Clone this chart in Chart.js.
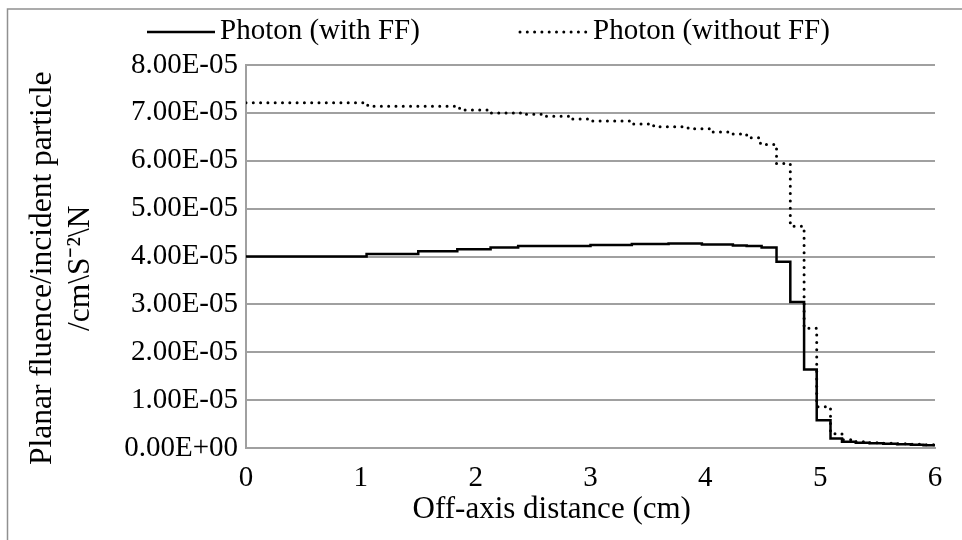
<!DOCTYPE html>
<html>
<head>
<meta charset="utf-8">
<script src="https://cdn.jsdelivr.net/npm/chart.js@4/dist/chart.umd.min.js"></script>
<style>
  html, body { margin: 0; padding: 0; background: #fff; }
</style>
</head>
<body>
<canvas id="myChart" width="962" height="540"></canvas>
<script>
// step edges (cm) and the value of the bin that starts there
const withFFX = [0, 1.05, 1.50, 1.84, 2.13, 2.37, 3.00, 3.36, 3.68, 3.97, 4.24, 4.36, 4.49, 4.62, 4.74, 4.86, 4.97, 5.09, 5.19, 5.31, 5.43, 5.55, 5.67, 5.79, 5.90, 6.00];
const withFFY = [4.00e-5, 4.05e-5, 4.11e-5, 4.15e-5, 4.19e-5, 4.22e-5, 4.24e-5, 4.26e-5, 4.27e-5, 4.25e-5, 4.23e-5, 4.22e-5, 4.19e-5, 3.89e-5, 3.05e-5, 1.64e-5, 0.58e-5, 0.20e-5, 0.13e-5, 0.11e-5, 0.10e-5, 0.09e-5, 0.08e-5, 0.07e-5, 0.06e-5, 0.06e-5];

const withoutFFX = [0, 1.06, 1.86, 2.11, 2.39, 2.59, 2.84, 3.02, 3.35, 3.55, 3.85, 4.05, 4.20, 4.36, 4.48, 4.62, 4.74, 4.86, 4.97, 5.09, 5.19, 5.31, 5.43, 5.55, 5.67, 5.79, 5.90, 6.00];
const withoutFFY = [7.21e-5, 7.14e-5, 7.06e-5, 7.00e-5, 6.97e-5, 6.93e-5, 6.87e-5, 6.83e-5, 6.77e-5, 6.71e-5, 6.67e-5, 6.60e-5, 6.56e-5, 6.48e-5, 6.34e-5, 5.94e-5, 4.63e-5, 2.50e-5, 0.86e-5, 0.30e-5, 0.17e-5, 0.13e-5, 0.11e-5, 0.10e-5, 0.09e-5, 0.08e-5, 0.07e-5, 0.07e-5];

const xTicks = [0, 1, 2, 3, 4, 5, 6];
const yTicks = [0, 1e-5, 2e-5, 3e-5, 4e-5, 5e-5, 6e-5, 7e-5, 8e-5];

const seriesNames = ['Photon (with FF)', 'Photon (without FF)'];

const serif = "'Liberation Serif', 'Times New Roman', serif";
const gridGray = '#a0a0a0';

function toPoints(xs, ys) {
	return xs.map((x, i) => ({ x: x, y: ys[i] }));
}

function sciLabel(v) {
	const parts = Number(v).toExponential(2).split('e');
	const sign = parts[1][0] === '-' ? '-' : '+';
	return parts[0] + 'E' + sign + parts[1].replace(/^[+-]/, '').padStart(2, '0');
}

// white page, the frame edge and the legend row along the top
const framePlugin = {
	id: 'frame',
	beforeDraw(chart) {
		const ctx = chart.ctx;
		ctx.save();
		ctx.fillStyle = '#fff';
		ctx.fillRect(0, 0, chart.width, chart.height);
		ctx.restore();
	},
	afterDraw(chart) {
		const ctx = chart.ctx;
		ctx.save();
		ctx.strokeStyle = '#909090';
		ctx.lineWidth = 1.5;
		ctx.strokeRect(7.5, 9, 1200, 1200);

		// legend: sample line then its label
		const slots = [{ x: 147, text: 220 }, { x: 520, text: 593 }];
		ctx.font = '29px ' + serif;
		ctx.textBaseline = 'middle';
		ctx.fillStyle = '#000';
		chart.data.datasets.forEach((ds, i) => {
			const s = slots[i];
			ctx.beginPath();
			ctx.lineWidth = ds.borderWidth;
			ctx.strokeStyle = ds.borderColor;
			ctx.lineCap = ds.borderCapStyle || 'butt';
			ctx.setLineDash(ds.borderDash || []);
			ctx.moveTo(s.x, 32);
			ctx.lineTo(s.x + 68, 32);
			ctx.stroke();
			ctx.fillText(ds.label, s.text, 31);
		});
		ctx.restore();
	}
};

Chart.defaults.font.family = serif;
Chart.defaults.color = '#000';

const ctx = document.getElementById('myChart').getContext('2d');
const myChart = new Chart(ctx, {
	type: 'line',
	data: {
		datasets: [{
			label: seriesNames[0],
			data: toPoints(withFFX, withFFY),
			borderColor: '#000',
			backgroundColor: '#000',
			borderWidth: 2.5,
			stepped: 'before',
			pointRadius: 0
		}, {
			label: seriesNames[1],
			data: toPoints(withoutFFX, withoutFFY),
			borderColor: '#000',
			backgroundColor: '#000',
			borderWidth: 3,
			borderDash: [0, 7.3],
			borderCapStyle: 'round',
			stepped: 'before',
			pointRadius: 0
		}]
	},
	options: {
		responsive: false,
		animation: false,
		layout: { padding: { left: 0, right: 27, top: 65, bottom: 0 } },
		plugins: {
			tooltip: { enabled: false },
			legend: { display: false }
		},
		scales: {
			x: {
				type: 'linear',
				min: 0,
				max: 6,
				afterBuildTicks: s => { s.ticks = xTicks.map(v => ({ value: v })); },
				afterFit: s => { s.height = 92; },
				ticks: { font: { size: 29 }, color: '#000', padding: 13 },
				grid: { display: false, drawTicks: false },
				border: { display: true, color: gridGray, width: 2 },
				title: {
					display: true,
					text: 'Off-axis distance (cm)' + ' '.repeat(10),
					font: { size: 31, lineHeight: 1.2 },
					color: '#000',
					padding: { top: 0, bottom: 12 }
				}
			},
			y: {
				min: 0,
				max: 8e-5,
				afterBuildTicks: s => { s.ticks = yTicks.map(v => ({ value: v })); },
				afterFit: s => { s.width = 246; },
				ticks: { font: { size: 29 }, color: '#000', padding: 8, callback: v => sciLabel(v) },
				grid: { color: gridGray, lineWidth: 2, drawTicks: false },
				border: { display: true, color: gridGray, width: 2 },
				title: {
					display: true,
					text: ['Planar fluence/incident particle   ', '/cm\\S\u207B\u00B2\\N   '],
					font: { size: 31.5, lineHeight: 1.2 },
					color: '#000',
					padding: { top: 24, bottom: 0 }
				}
			}
		}
	},
	plugins: [framePlugin]
});
</script>
</body>
</html>
